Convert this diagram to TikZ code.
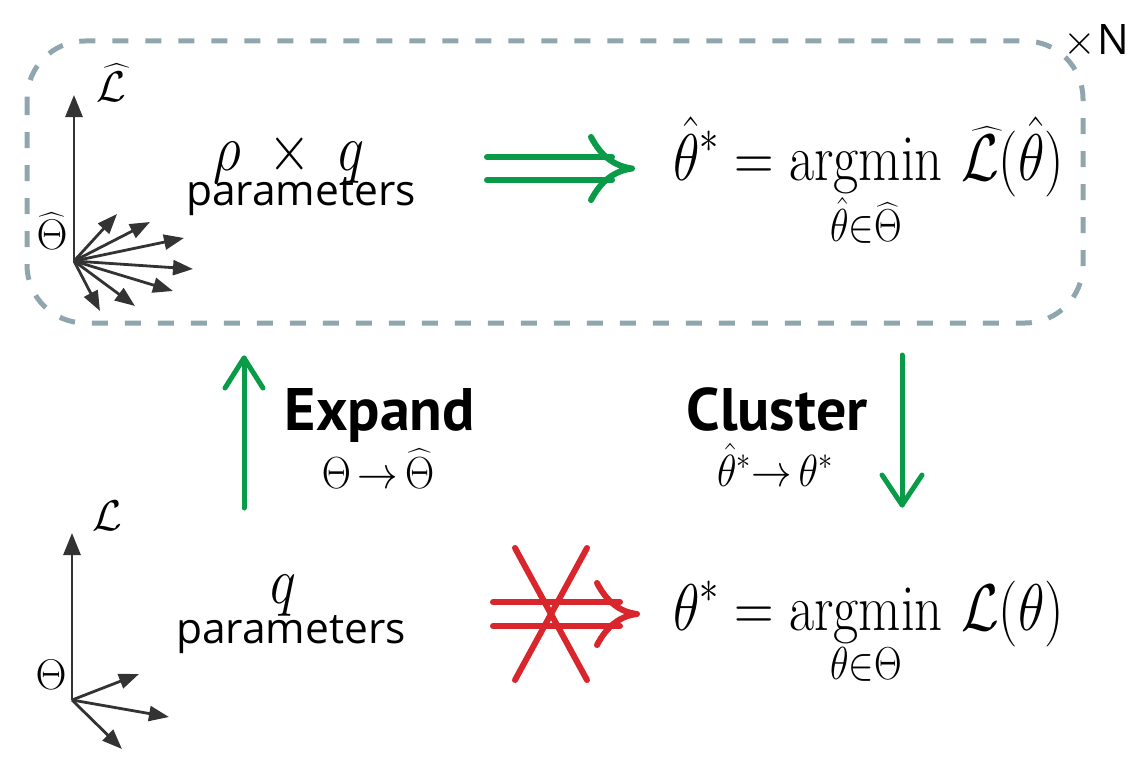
\RequirePackage{fix-cm}
\documentclass[tikz,border=0pt]{standalone}
\usepackage{amsmath}
\usepackage{graphicx}
\usepackage{fontspec}
\setsansfont{Open Sans}
\newfontfamily\boldsans{PT Sans}
\usetikzlibrary{arrows.meta}
\definecolor{ggreen}{HTML}{0A9B48}
\definecolor{rred}{HTML}{D9262C}
\definecolor{dgray}{HTML}{333333}
\definecolor{boxgray}{HTML}{8FA6AE}
\newcommand{\sqz}[1]{\scalebox{0.83}[1]{#1}}
\newcommand{\sqzb}[1]{\scalebox{0.9}[1]{#1}}
\tikzset{
  axarrow/.style={dgray, line width=2.8pt, -{Triangle[length=22pt,width=17pt]}},
  fanarrow/.style={dgray, line width=2.8pt, -{Triangle[length=20pt,width=15pt]}},
  bigmath/.style={inner sep=0pt, font=\fontsize{66}{76}\selectfont},
  submath/.style={inner sep=0pt, font=\fontsize{45}{52}\selectfont},
  axlabel/.style={inner sep=0pt, font=\fontsize{43}{50}\selectfont},
  sanstext/.style={inner sep=0pt, font=\sffamily\fontsize{42.5}{50}\selectfont},
  boldtext/.style={inner sep=0pt, font=\boldsans\bfseries\fontsize{60}{70}\selectfont},
  greenline/.style={ggreen, line width=6pt, line cap=round, line join=round},
  redline/.style={rred, line width=6pt, line cap=round, line join=round},
  greenarrow/.style={ggreen, line width=5pt, line cap=round, line join=round},
}
\begin{document}
\begin{tikzpicture}[x=1pt,y=-1pt]
\useasboundingbox (0,0) rectangle (1145,760);

% dashed repeat box
\draw[boxgray, line width=5pt, dash pattern=on 16pt off 17pt, rounded corners=58pt]
  (27,41) rectangle (1083,323);
\node[anchor=base west, inner sep=0pt] (xN) at (1063,55)
  {\fontsize{42}{48}\selectfont$\times$\hspace{2pt}\sffamily\fontsize{42}{48}\selectfont N};

% top axes
\coordinate (O1) at (74,261);
\coordinate (Y1) at (74,95);
\draw[axarrow] (O1) -- (Y1);
\foreach \i/\p in {1/{117,214},2/{150,222},3/{184,238},4/{193,269},5/{173,291},6/{135,306},7/{100,311}}{
  \coordinate (f\i) at (\p);
  \draw[fanarrow] (O1) -- (f\i);
}
\node[axlabel] (Lhat) at (111,83) {$\widehat{\mathcal{L}}$};
\node[axlabel] (Thhat) at (52,231) {$\widehat{\Theta}$};

% bottom axes
\coordinate (O2) at (72,700);
\coordinate (Y2) at (72,533);
\draw[axarrow] (O2) -- (Y2);
\foreach \i/\p in {1/{139,674},2/{169,717},3/{122,749}}{
  \coordinate (g\i) at (\p);
  \draw[fanarrow] (O2) -- (g\i);
}
\node[axlabel] (Lb) at (107,516) {$\mathcal{L}$};
\node[axlabel] (Thb) at (51,675) {$\Theta$};

% parameter labels
\node[bigmath, anchor=base] (rq) at (289,170) {\sqz{$\rho\;\times\;q$}};
\node[sanstext, anchor=base] (par1) at (301,205) {parameters};
\node[bigmath, anchor=base] (q) at (283,603) {\sqz{$q$}};
\node[sanstext, anchor=base] (par2) at (291,643) {parameters};

% top equation
\node[bigmath, anchor=base west] (eq1) at (673,180)
  {\sqz{$\displaystyle \hat{\theta}^{*} = \operatorname*{argmin}_{\hat{\theta}\in\widehat{\Theta}}\,\widehat{\mathcal{L}}(\hat{\theta})$}};
% bottom equation
\node[bigmath, anchor=base west] (eq2) at (673,630)
  {\sqz{$\displaystyle \theta^{*} = \operatorname*{argmin}_{\theta\in\Theta}\,\mathcal{L}(\theta)$}};

% green double arrow (implies)
\coordinate (d1s) at (487,157); \coordinate (d1e) at (612,157);
\coordinate (d2s) at (487,180); \coordinate (d2e) at (612,180);
\coordinate (dtip) at (632,168.5);
\draw[greenline] (d1s) -- (d1e);
\draw[greenline] (d2s) -- (d2e);
\draw[greenline] (591,137) .. controls (601,156) and (614,166) .. (dtip)
                 .. controls (614,171) and (601,181) .. (591,200);

% red crossed double arrow
\coordinate (r1s) at (493,602); \coordinate (r1e) at (620,602);
\coordinate (r2s) at (493,626); \coordinate (r2e) at (620,626);
\coordinate (rtip) at (637,614);
\draw[redline] (r1s) -- (r1e);
\draw[redline] (r2s) -- (r2e);
\draw[redline] (597,583) .. controls (607,602) and (620,612) .. (rtip)
               .. controls (620,616) and (607,626) .. (597,645);
\coordinate (c1a) at (515,548); \coordinate (c1b) at (587,680);
\coordinate (c2a) at (587,548); \coordinate (c2b) at (515,680);
\draw[redline] (c1a) -- (c1b);
\draw[redline] (c2a) -- (c2b);

% Expand arrow
\coordinate (eb) at (244,508); \coordinate (et) at (244,358);
\draw[greenarrow] (eb) -- (et);
\draw[greenarrow] (225,388) -- (et) -- (263,388);
\node[boldtext, anchor=base] (exp) at (380,430) {Expand};
\node[submath, anchor=base] (exps) at (378,488) {\sqzb{$\Theta\,{\to}\,\widehat{\Theta}$}};

% Cluster arrow
\coordinate (ct) at (902,355); \coordinate (cb) at (902,505);
\draw[greenarrow] (ct) -- (cb);
\draw[greenarrow] (882,475) -- (cb) -- (922,475);
\node[boldtext, anchor=base] (clu) at (777,430) {Cluster};
\node[submath, anchor=base] (clus) at (775,486) {\sqzb{$\hat{\theta}^{*}{\to}\,\theta^{*}$}};
\end{tikzpicture}
\end{document}
